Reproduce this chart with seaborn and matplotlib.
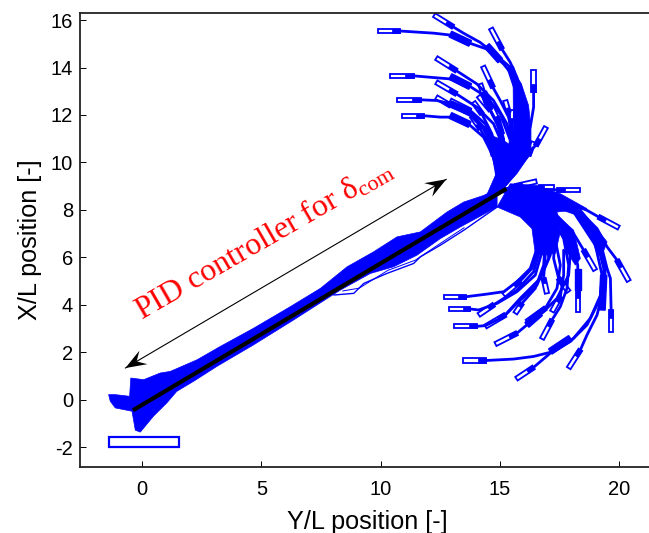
import numpy as np
import pandas as pd
import seaborn as sns
import matplotlib.pyplot as plt

# turning trajectories above the hub, first two points are the end ship rectangle
upper_paths = [
    [(12.24,16.21),(13.03,15.72),(13.47,15.45),(14.17,15.06),(14.87,14.50),(15.43,14.01),(15.85,13.31),(16.06,12.33),(16.06,11.21),(15.71,10.23),(15.15,9.25)],
    [(9.87,15.54),(10.82,15.54),(12.22,15.45),(12.92,15.37),(13.75,15.02),(14.45,14.78),(15.15,14.15),(15.71,13.45),(15.99,12.61),(16.13,11.21),(15.57,10.09),(15.08,9.18)],
    [(14.62,15.65),(15.08,14.78),(15.43,14.22),(15.71,13.59),(15.92,12.61),(15.92,11.21),(15.43,9.95),(15.01,9.11)],
    [(16.41,13.91),(16.41,12.96),(16.41,12.33),(16.27,11.49),(15.85,10.23),(15.29,9.39)],
    [(12.33,14.40),(13.17,13.87),(14.03,13.31),(14.73,12.61),(15.29,11.63),(15.57,10.65),(15.43,9.81),(15.08,9.11)],
    [(10.40,13.65),(11.38,13.65),(12.08,13.59),(12.92,13.52),(13.75,13.20),(14.45,12.75),(15.01,12.05),(15.43,10.93),(15.36,9.95),(15.08,9.18)],
    [(14.29,14.05),(14.70,13.17),(15.01,12.61),(15.36,11.91),(15.57,10.93),(15.43,9.95),(15.08,9.18)],
    [(12.33,13.38),(13.17,12.89),(14.03,12.33),(14.73,11.63),(15.15,10.65),(15.15,9.81),(15.01,9.11)],
    [(10.68,12.64),(11.68,12.64),(12.36,12.61),(12.92,12.47),(13.75,12.12),(14.45,11.35),(14.87,10.51),(15.01,9.67),(14.94,9.04)],
    [(12.33,12.75),(12.92,12.40),(13.75,11.98),(14.31,11.42),(14.73,10.51),(14.94,9.53)],
    [(10.89,11.97),(11.80,11.97),(12.50,11.91),(13.06,11.91),(13.75,11.56),(14.31,11.07),(14.73,10.23),(14.87,9.39)],
    [(16.93,11.49),(16.51,10.72),(16.27,10.51),(15.71,9.67),(15.22,9.04)],
    [(13.89,12.54),(14.24,12.05),(14.66,11.21),(14.94,10.23),(15.08,9.39)],
    [(13.82,11.94),(14.17,11.42),(14.59,10.65),(14.87,9.67)],
    [(14.52,11.07),(14.73,10.30),(14.94,9.39)],
    [(15.22,12.61),(15.36,12.12),(15.50,10.93),(15.29,9.67)],
    [(15.50,12.19),(15.50,11.70),(15.57,10.65),(15.22,9.39)],
    [(14.87,11.91),(15.08,11.21),(15.22,10.23),(15.15,9.25)],
    [(15.85,11.42),(15.78,10.79),(15.50,9.81),(15.15,9.11)],
    [(14.17,13.31),(14.45,12.47),(14.94,11.49),(15.29,10.51),(15.15,9.39)],
    [(12.92,12.61),(13.75,12.19),(14.38,11.63),(14.80,10.65),(15.01,9.46)],
    [(16.41,10.86),(16.20,10.30),(15.57,9.53),(15.15,9.04)],
    [(14.66,12.30),(14.95,11.70),(15.15,11.00),(15.20,9.90)],
    [(14.10,12.80),(14.60,12.20),(15.05,11.35),(15.10,10.00)],
]

# same thing below the hub
lower_paths = [
    [(12.64,4.34),(13.59,4.34),(14.39,4.44),(15.16,4.55),(15.71,4.97),(16.27,5.53),(16.55,6.37),(16.41,7.35),(15.85,8.19),(15.15,8.89)],
    [(12.85,3.82),(13.76,3.82),(14.11,3.78),(14.88,4.06),(15.71,4.55),(16.48,5.25),(16.76,6.23),(16.55,7.49),(15.85,8.33),(15.15,8.89)],
    [(13.06,3.09),(14.04,3.09),(14.39,3.12),(15.16,3.50),(15.71,4.06),(16.55,4.83),(17.04,5.95),(16.97,7.21),(16.41,8.19),(15.15,8.89)],
    [(13.45,1.65),(14.43,1.65),(15.57,1.71),(16.41,1.82),(17.25,2.03),(18.09,2.59),(18.79,3.43),(19.28,4.55),(19.35,5.53),(19.07,6.65),(18.23,7.91),(16.97,8.61),(15.15,8.89)],
    [(15.69,0.88),(16.41,1.36),(17.11,1.96),(17.95,2.45),(18.65,3.15),(19.21,4.27),(19.28,5.25),(19.00,6.51),(18.09,7.91),(15.15,8.89)],
    [(14.81,2.34),(15.71,2.80),(16.13,3.15),(16.83,3.71),(17.39,4.27),(17.88,5.25),(17.95,6.23),(17.53,7.35),(16.55,8.33),(15.15,8.89)],
    [(16.76,2.56),(17.18,3.36),(17.53,3.92),(17.81,4.69),(17.88,5.67),(17.67,6.79),(16.97,8.05),(15.15,8.89)],
    [(17.88,1.33),(18.37,2.10),(18.65,2.73),(19.07,3.57),(19.35,4.69),(19.42,5.53),(19.21,6.51),(18.37,7.77),(15.15,8.89)],
    [(19.66,2.83),(19.66,3.78),(19.63,5.11),(19.49,5.53),(19.28,6.37),(18.65,7.63),(17.53,8.47),(15.15,8.89)],
    [(18.27,3.71),(18.27,4.62),(18.26,5.67),(18.09,6.37),(17.67,7.21),(16.83,8.19),(15.15,8.89)],
    [(20.40,5.00),(19.91,5.88),(19.49,6.44),(19.07,7.21),(18.37,7.91),(17.25,8.47),(15.15,8.89)],
    [(19.98,7.25),(19.14,7.70),(18.65,7.98),(17.67,8.40),(16.41,8.75),(15.15,8.89)],
    [(18.34,8.85),(17.39,8.85),(16.41,8.82),(15.15,8.75)],
    [(17.25,8.96),(16.62,8.96),(15.85,8.82),(15.15,8.89)],
    [(16.53,9.20),(15.64,9.00),(15.15,8.85)],
    [(18.99,5.46),(18.51,6.30),(18.09,7.00),(17.25,7.91),(16.41,8.47),(15.15,8.89)],
    [(14.11,3.57),(14.74,4.00),(15.71,4.62),(16.41,5.39),(16.69,6.37),(16.55,7.35),(15.85,8.33)],
    [(14.39,3.08),(15.22,3.57),(15.85,4.27),(16.69,5.11),(17.11,6.09),(16.97,7.35),(16.20,8.33)],
    [(15.16,4.41),(15.85,5.00),(16.34,5.53),(16.62,6.37)],
    [(15.64,3.64),(15.92,4.06),(16.48,4.69),(16.83,5.67),(16.90,6.65)],
    [(16.13,3.29),(16.90,3.85),(17.39,4.69),(17.53,5.67),(17.25,7.07),(16.41,8.19)],
    [(16.97,4.48),(16.83,5.11),(16.90,6.09),(16.76,7.07)],
    [(17.88,4.55),(17.46,5.11),(17.25,5.95),(17.32,7.00)],
    [(17.18,3.71),(17.53,4.34),(17.67,5.25),(17.67,6.30)],
]

# ship outlines met along the way
mid_ships = [
    [(12.92,15.41),(13.75,15.02)], [(12.92,13.62),(13.75,13.20)], [(12.92,12.47),(13.75,12.12)],
    [(12.92,11.98),(13.73,11.60)], [(14.45,14.92),(15.01,14.29)], [(15.43,14.01),(15.71,13.17)],
    [(14.31,12.96),(14.59,12.33)], [(19.28,3.78),(19.35,5.25)], [(17.11,2.03),(17.95,2.59)],
    [(16.13,3.15),(16.69,3.64)], [(18.27,4.62),(18.27,5.50)],
]

# solid areas where the runs overlap
hub_x = [14.38,14.84,14.84,14.66,14.45,15.10,15.57,16.30,15.71,15.15]
hub_y = [8.48,9.53,9.95,10.30,11.21,10.95,10.65,10.40,9.53,8.90]
upper_band_x = [15.57,15.55,15.90,16.20,16.30,16.30,15.90]
upper_band_y = [10.65,13.50,13.30,12.40,11.40,10.40,10.20]
fan_x = [14.88,15.85,16.34,16.48,16.83,17.32,17.53,17.39,18.65,17.53,16.55,15.43]
fan_y = [8.12,7.70,7.21,6.16,6.09,6.16,7.07,7.91,8.05,8.68,9.03,9.10]
outer_band_x = [18.37,19.49,19.28,19.07,18.79,18.23]
outer_band_y = [8.05,6.65,6.09,6.16,6.93,7.63]
mid_band_x = [17.25,18.09,18.37,18.16,17.81,17.53]
mid_band_y = [7.91,7.14,5.95,5.67,6.23,7.21]

# run-in bundle around the reference line
head_x = [-1.41,-1.13,-0.53,-0.48,0.06,0.75,1.18,2.30,3.27,4.67,6.21,7.47,8.59,9.70,10.68,11.66,12.78,13.48,14.32,14.60,14.88]
head_y = [0.21,0.21,0.14,0.91,0.84,1.12,1.19,1.68,2.24,3.01,3.92,4.69,5.60,6.23,6.86,7.07,7.91,8.33,8.61,8.75,9.31]
tail_x = [14.88,13.34,12.50,11.52,10.54,9.57,8.31,6.35,4.67,3.13,2.15,1.45,1.03,0.47,-0.08,-0.29,-0.43,-1.13,-1.34]
tail_y = [8.12,7.28,6.79,6.09,5.60,5.32,4.62,3.36,2.31,1.40,0.77,0.35,-0.14,-0.70,-1.37,-1.29,-0.49,-0.35,-0.07]
stray_x = [8.03,8.87,9.29,10.26,11.38,11.66,12.50,13.48,14.88]
stray_y = [4.41,4.48,4.90,5.32,5.74,6.02,6.51,7.14,8.12]
stray2_x = [8.40,9.10,10.30,11.45,12.55,13.50]
stray2_y = [4.58,4.70,5.45,5.88,6.62,7.25]

ref_x = [-0.39,15.27]
ref_y = [-0.45,8.89]
start_x = [-1.41,1.55]
start_y = [-1.78,-1.78]
arrow_x = [-0.71,12.75]
arrow_y = [1.33,9.29]

x_ticks = [0,5,10,15,20]
y_ticks = [-2,0,2,4,6,8,10,12,14,16]
y_labels = ['-2','0','2','4','6','8','10','12','14','16']

BLUE = '#0000ff'


def outline(p0, p1, width=0.18):
    # corners of a ship rectangle between two end points
    p0, p1 = np.array(p0), np.array(p1)
    d = p1 - p0
    n = np.array([-d[1], d[0]]) / np.hypot(*d) * width / 2
    return np.array([p0 + n, p1 + n, p1 - n, p0 - n])


def stealth(tip, tail):
    # notched arrow head, sizes in data units
    tip, tail = np.array(tip), np.array(tail)
    d = (tail - tip) / np.hypot(*(tail - tip))
    n = np.array([-d[1], d[0]])
    return np.array([tip, tip + 0.88 * d + 0.33 * n, tip + 0.55 * d, tip + 0.88 * d - 0.33 * n])


rows = []
for i, path in enumerate(upper_paths + lower_paths):
    for x, y in path[1:]:
        rows.append({'traj': i, 'x': x, 'y': y})
df = pd.DataFrame(rows)

sns.set_theme(style='ticks')
plt.rcParams['font.family'] = ['Liberation Sans', 'DejaVu Sans']
plt.rcParams['mathtext.fontset'] = 'custom'
plt.rcParams['mathtext.rm'] = 'Liberation Serif'
plt.rcParams['mathtext.it'] = 'Liberation Serif'

fig = plt.figure(figsize=(6.49, 5.33), dpi=100)
ax = fig.add_axes([80 / 649, 66.5 / 533, 575 / 649, 453.5 / 533])

ax.fill(head_x + tail_x, head_y + tail_y, color=BLUE, lw=0.5)
for xs, ys in [(hub_x, hub_y), (upper_band_x, upper_band_y), (fan_x, fan_y),
               (outer_band_x, outer_band_y), (mid_band_x, mid_band_y)]:
    ax.fill(xs, ys, color=BLUE, lw=0.5)
ax.plot(stray_x, stray_y, color=BLUE, lw=1.0)
ax.plot(stray2_x, stray2_y, color=BLUE, lw=0.7)

sns.lineplot(data=df, x='x', y='y', units='traj', estimator=None, sort=False,
             color=BLUE, lw=2.0, legend=False, ax=ax)

for path in upper_paths + lower_paths:
    p0, p1 = np.array(path[0]), np.array(path[1])
    ax.fill(*outline(p0, p1).T, fill=False, edgecolor=BLUE, lw=1.3)
    # inner part of the ship is smeared solid by the overlapping steps
    ax.fill(*outline(p0 + 0.65 * (p1 - p0), p1).T, color=BLUE, lw=0.5)
for p0, p1 in mid_ships:
    ax.fill(*outline(p0, p1, width=0.26).T, color=BLUE, lw=1.0)

ax.fill(*outline((start_x[0], start_y[0]), (start_x[1], start_y[1]), width=0.43).T,
        fill=False, edgecolor=BLUE, lw=1.6)
sns.lineplot(x=ref_x, y=ref_y, color='black', lw=3.0, ax=ax, sort=False, estimator=None,
             solid_capstyle='butt')

sns.lineplot(x=arrow_x, y=arrow_y, color='black', lw=0.8, ax=ax, sort=False, estimator=None)
ax.fill(*stealth((arrow_x[0], arrow_y[0]), (arrow_x[1], arrow_y[1])).T, color='black', lw=0)
ax.fill(*stealth((arrow_x[1], arrow_y[1]), (arrow_x[0], arrow_y[0])).T, color='black', lw=0)

ax.text(-0.01, 3.33, r'PID controller for $\mathrm{δ}_{\mathrm{com}}$', color='red',
        fontsize=23, family='Liberation Serif', rotation=30, rotation_mode='anchor',
        ha='left', va='baseline')

ax.set_xlim(-2.61, 21.5)
ax.set_ylim(-2.82, 16.3)
ax.set_xticks(x_ticks)
ax.set_yticks(y_ticks, labels=y_labels)
ax.tick_params(direction='in', length=4, width=0.7, labelsize=14.5, colors='black')
ax.tick_params(axis='x', pad=10)
ax.tick_params(axis='y', pad=5)
for side in ['top', 'bottom', 'left']:
    ax.spines[side].set_linewidth(1.3)
    ax.spines[side].set_color('#222222')
ax.spines['right'].set_visible(False)
ax.set_xlabel('Y/L position [-]', fontsize=18.2, labelpad=8, color='black')
ax.set_ylabel('X/L position [-]', fontsize=18.2, labelpad=6, color='black')

plt.savefig('out.png', dpi=100)
plt.close()
